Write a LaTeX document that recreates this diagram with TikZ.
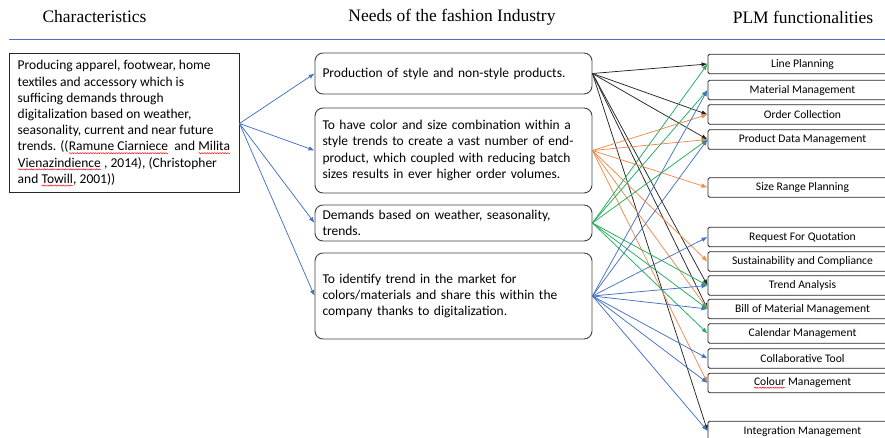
\documentclass[tikz,border=0pt]{standalone}
\usepackage{fontspec}
\setmainfont{Carlito}
\newfontfamily\hdrfont{Liberation Serif}
\usetikzlibrary{arrows.meta,decorations.pathmorphing}
\definecolor{cblue}{HTML}{4472C4}
\definecolor{corange}{HTML}{F08A4B}
\definecolor{cgreen}{HTML}{1FAE5B}
\definecolor{cblack}{HTML}{262626}
\definecolor{bord}{HTML}{404040}
\newcommand\wv[1]{\tikz[baseline=(wvw.base),x=1pt,y=1pt]{\node[draw=none,fill=none,minimum width=0pt,minimum height=0pt,text width={},inner sep=0pt,outer sep=0pt,sharp corners,align=left](wvw){#1};\draw[red,line width=0.45pt,sharp corners,decorate,decoration={snake,amplitude=0.6pt,segment length=2.6pt}]([yshift=-2.2pt]wvw.base west)--([yshift=-2.2pt]wvw.base east);}}
\begin{document}
\begin{tikzpicture}[x=1pt,y=-1pt,
  hdr/.style={font=\hdrfont\fontsize{17.5}{20}\selectfont, inner sep=0pt},
  leftbox/.style={draw=cblack, line width=1pt, minimum width=230pt, minimum height=139pt, align=left, inner sep=0pt, font=\fontsize{13.5}{16.2}\selectfont},
  needbox/.style={draw=bord, line width=0.9pt, rounded corners=8pt, text width=262pt, inner xsep=7.5pt, inner ysep=0pt, align=left, font=\fontsize{13.5}{16.2}\selectfont},
  rbox/.style={draw=cblack, line width=0.9pt, rounded corners=1.5pt, minimum width=189pt, minimum height=19.5pt, inner sep=0pt, font=\fontsize{11.6}{13}\selectfont},
  conn/.style={-{Latex[length=6pt,width=4.5pt]}, line width=0.75pt},
  cb/.style={conn, cblue},
  co/.style={conn, corange},
  cg/.style={conn, cgreen},
  ck/.style={conn, cblack}]
\useasboundingbox (0,0) rectangle (885,438);

% headers
\node[hdr] (h1) at (94.5,17) {Characteristics};
\node[hdr] (h2) at (452,17) {Needs of the fashion Industry};
\node[hdr] (h3) at (803,17) {PLM functionalities};
\coordinate (rl) at (9,40);
\coordinate (rr) at (885,40);
\draw[cblue, line width=1pt] (rl) -- (rr);

% left box
\node[leftbox] (L) at (124,123.5) {Producing apparel, footwear, home\\
textiles and accessory which is\\
sufficing demands through\\
digitalization based on weather,\\
seasonality, current and near future\\
trends. ((\wv{Ramune Ciarniece}\ \ and \wv{Milita}\\
\wv{Vienazindience} , 2014), (Christopher\\
and \wv{Towill}, 2001))};

% middle boxes
\node[needbox, minimum height=41pt] (m1) at (453.5,73.5) {Production of style and non-style products.};
\node[needbox, minimum height=85pt] (m2) at (453.5,150.5) {To have color and size combination within a\\
style trends to create a vast number of end-\\
product, which coupled with reducing batch\\
sizes results in ever higher order volumes.};
\node[needbox, minimum height=36pt] (m3) at (453.5,223) {Demands based on weather, seasonality,\\
trends.};
\node[needbox, minimum height=86pt] (m4) at (453.5,296) {To identify trend in the market for\\
colors/materials and share this within the\\
company thanks to digitalization.};

% right boxes
\node[rbox] (lp) at (802.5,64) {Line Planning};
\node[rbox] (mm) at (802.5,90) {Material Management};
\node[rbox] (oc) at (802.5,114.5) {Order Collection};
\node[rbox] (pdm) at (802.5,139.5) {Product Data Management};
\node[rbox] (srp) at (802.5,187.5) {Size Range Planning};
\node[rbox] (rfq) at (802.5,237) {Request For Quotation};
\node[rbox] (sc) at (802.5,261.5) {Sustainability and Compliance};
\node[rbox] (ta) at (802.5,285.5) {Trend Analysis};
\node[rbox] (bom) at (802.5,309) {Bill of Material Management};
\node[rbox] (cal) at (802.5,333.5) {Calendar Management};
\node[rbox] (ct) at (802.5,358.5) {Collaborative Tool};
\node[rbox] (col) at (802.5,383) {\wv{Colour} Management};
\node[rbox] (im) at (802.5,431) {Integration Management};

% left -> middle
\foreach \m in {m1,m2,m3,m4} \draw[cb] (L.east) -- (\m.west);

% black from m1
\foreach \t in {lp,oc,pdm,ta,bom,im} \draw[ck] (m1.east) -- (\t.west);
% orange from m2
\foreach \t in {oc,pdm,srp,sc,bom,col} \draw[co] (m2.east) -- (\t.west);
% green from m3
\foreach \t in {lp,mm,pdm,ta,bom,cal} \draw[cg] (m3.east) -- (\t.west);
% blue from m4
\foreach \t in {mm,pdm,rfq,ta,bom,ct,col,im} \draw[cb] (m4.east) -- (\t.west);
\end{tikzpicture}
\end{document}
